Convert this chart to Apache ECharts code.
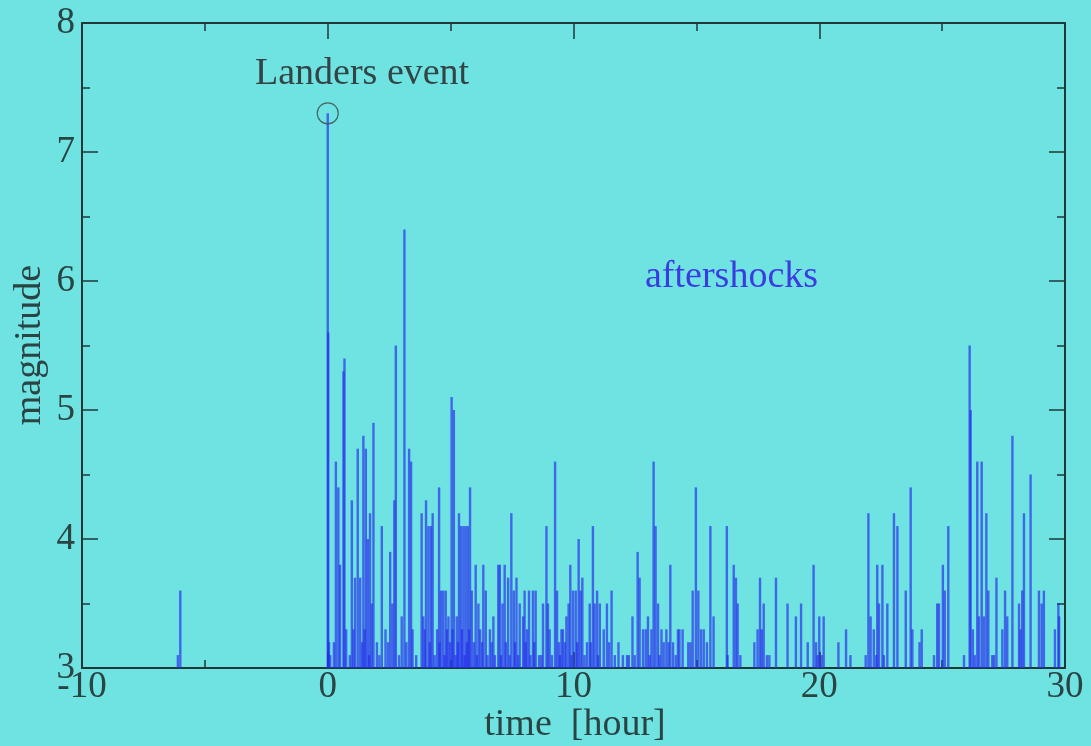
<!DOCTYPE html>
<html>
<head>
<meta charset="utf-8">
<script src="https://cdn.jsdelivr.net/npm/echarts@6/dist/echarts.min.js"></script>
<style>
html,body{margin:0;padding:0;background:#6ee3e2;}
#chart{width:1091px;height:746px;}
</style>
</head>
<body>
<div id="chart"></div>
<script>
// ---- data (time in hours relative to the Landers event, magnitude) ----
const times = [
  -6.1, -6.0,
  0.0, 0.02, 0.05, 0.1, 0.25, 0.33, 0.43, 0.5, 0.64, 0.68, 0.75, 0.9, 0.98, 1.05, 1.11, 1.22, 1.32, 1.4,
  1.45, 1.5, 1.55, 1.63, 1.68, 1.72, 1.79, 1.86, 2.0, 2.1, 2.2, 2.35, 2.45, 2.54, 2.63, 2.71, 2.77, 2.9,
  3.01, 3.12, 3.2, 3.31, 3.39, 3.45, 3.6, 3.82, 3.89, 3.95, 4.0, 4.1, 4.15, 4.2, 4.27, 4.35, 4.45, 4.53,
  4.55, 4.61, 4.7, 4.75, 4.8, 4.85, 4.91, 4.97, 5.04, 5.08, 5.13, 5.2, 5.25, 5.3, 5.34, 5.42, 5.46, 5.52,
  5.57, 5.61, 5.66, 5.7, 5.75, 5.79, 5.86, 5.95, 6.02, 6.07, 6.13, 6.2, 6.28, 6.33, 6.43, 6.5, 6.6, 6.67,
  6.74, 6.8, 6.94, 7.0, 7.05, 7.11, 7.2, 7.25, 7.34, 7.4, 7.47, 7.57, 7.62, 7.68, 7.75, 7.81, 7.95, 8.01,
  8.05, 8.11, 8.19, 8.25, 8.35, 8.4, 8.46, 8.6, 8.69, 8.76, 8.9, 8.96, 9.03, 9.12, 9.25, 9.33, 9.41, 9.45,
  9.51, 9.57, 9.65, 9.71, 9.8, 9.87, 9.92, 9.98, 10.09, 10.15, 10.21, 10.29, 10.36, 10.45, 10.55, 10.66,
  10.7, 10.79, 10.86, 10.96, 11.0, 11.07, 11.23, 11.36, 11.45, 11.55, 11.68, 11.83, 12.01, 12.18, 12.25,
  12.4, 12.49, 12.61, 12.69, 12.83, 12.94, 13.03, 13.1, 13.17, 13.26, 13.34, 13.44, 13.5, 13.58, 13.67,
  13.78, 13.87, 13.94, 14.05, 14.16, 14.25, 14.31, 14.44, 14.67, 14.76, 14.85, 14.98, 15.08, 15.19, 15.3,
  15.43, 15.57, 15.7, 16.24, 16.27, 16.52, 16.61, 16.68, 16.79, 17.36, 17.49, 17.59, 17.66, 17.74, 17.87,
  17.97, 18.24, 18.71, 19.05, 19.26, 19.53, 19.77, 19.87, 19.93, 20.0, 20.1, 20.18, 20.78, 21.09, 21.27,
  21.89, 22.0, 22.09, 22.22, 22.32, 22.36, 22.43, 22.57, 22.63, 22.77, 23.04, 23.18, 23.52, 23.72, 23.79,
  24.08, 24.17, 24.67, 24.8, 24.87, 25.03, 25.11, 25.25, 25.89, 26.12, 26.16, 26.25, 26.33, 26.43, 26.5,
  26.61, 26.7, 26.8, 26.88, 27.04, 27.11, 27.21, 27.45, 27.56, 27.65, 27.86, 28.13, 28.19, 28.26, 28.33,
  28.6, 28.94, 29.05, 29.14, 29.59, 29.73, 29.76
];
const magnitudes = [
  3.1, 3.6,
  7.3, 5.6, 3.2, 3.1, 3.2, 4.6, 4.4, 3.8, 5.3, 5.4, 3.3, 3.1, 4.3, 3.3, 3.7, 4.7, 3.7, 3.2,
  4.8, 3.3, 4.7, 4.0, 3.1, 4.2, 3.5, 4.9, 3.2, 3.1, 4.1, 3.3, 3.2, 3.9, 3.5, 4.3, 5.5, 3.1,
  3.4, 6.4, 3.2, 4.7, 4.6, 3.3, 3.1, 4.2, 3.4, 3.3, 4.3, 4.1, 3.2, 4.1, 4.2, 3.1, 3.3, 4.4,
  3.2, 3.6, 3.6, 3.1, 3.6, 3.3, 3.4, 3.2, 5.1, 3.3, 5.0, 3.1, 3.4, 3.2, 4.2, 4.1, 3.3, 4.1,
  3.1, 4.1, 3.2, 4.1, 3.3, 4.4, 3.6, 3.2, 3.8, 3.1, 3.5, 3.3, 3.2, 3.8, 3.6, 3.1, 3.3, 3.2,
  3.4, 3.1, 3.8, 3.8, 3.1, 3.5, 3.8, 3.2, 3.7, 3.1, 4.2, 3.6, 3.2, 3.7, 3.1, 3.5, 3.4, 3.6,
  3.2, 3.3, 3.6, 3.1, 3.6, 3.2, 3.6, 3.1, 3.1, 3.5, 4.1, 3.5, 3.3, 3.1, 4.6, 3.6, 3.2, 3.1,
  3.3, 3.3, 3.2, 3.4, 3.5, 3.8, 3.1, 3.6, 3.6, 3.2, 4.0, 3.6, 3.7, 3.1, 3.2, 3.5,
  3.2, 4.1, 3.5, 3.6, 3.1, 3.5, 3.3, 3.5, 3.2, 3.6, 3.1, 3.2, 3.1, 3.1, 3.1,
  3.4, 3.1, 3.9, 3.7, 3.3, 3.3, 3.4, 3.1, 3.3, 4.6, 4.1, 3.5, 3.1, 3.3, 3.2,
  3.3, 3.2, 3.8, 3.2, 3.1, 3.3, 3.3, 3.3, 3.2, 3.2, 3.6, 4.4, 3.6, 3.3, 3.3,
  3.2, 4.1, 3.4, 4.1, 3.1, 3.8, 3.7, 3.5, 3.1, 3.2, 3.3, 3.7, 3.3, 3.5, 3.1,
  3.1, 3.7, 3.5, 3.4, 3.5, 3.2, 3.8, 3.2, 3.1, 3.4, 3.1, 3.4, 3.2, 3.3, 3.1,
  3.1, 4.2, 3.4, 3.3, 3.1, 3.8, 3.5, 3.8, 3.1, 3.5, 4.2, 4.1, 3.6, 4.4, 3.3,
  3.2, 3.3, 3.1, 3.5, 3.5, 3.8, 3.6, 4.1, 3.1, 5.5, 5.0, 3.3, 3.1, 4.6, 3.4,
  4.6, 3.4, 4.2, 3.6, 3.1, 3.1, 3.7, 3.3, 3.6, 3.4, 4.8, 3.5, 3.3, 3.6, 4.2,
  4.5, 3.6, 3.5, 3.6, 3.3, 3.5, 3.4
];
const mainShock = [0.0, 7.3];
const xTicks = { min: -10, max: 30, interval: 10 };
const yTicks = { min: 3, max: 8, interval: 1 };

const spikes = times.map((t, i) => [t, magnitudes[i]]);

const ink = '#203838';
const font = 'Liberation Serif';
const axisCommon = {
  axisLine: { show: true, onZero: false, lineStyle: { color: ink, width: 2 } },
  axisTick: { show: true, inside: true, length: 16, lineStyle: { color: ink, width: 1.5 } },
  minorTick: { show: true, splitNumber: 2, length: 8, lineStyle: { color: ink, width: 1.5 } },
  splitLine: { show: false },
  minorSplitLine: { show: false }
};

const chart = echarts.init(document.getElementById('chart'), null, { renderer: 'canvas' });
chart.setOption({
  animation: false,
  backgroundColor: '#6ee3e2',
  grid: { left: 82, right: 26, top: 23, bottom: 78 },
  xAxis: [
    Object.assign({
      type: 'value', position: 'bottom', min: xTicks.min, max: xTicks.max, interval: xTicks.interval,
      axisLabel: { show: true, margin: 1, color: '#2a4444', fontFamily: font, fontSize: 37 }
    }, axisCommon),
    Object.assign({
      type: 'value', position: 'top', min: xTicks.min, max: xTicks.max, interval: xTicks.interval,
      axisLabel: { show: false }
    }, axisCommon)
  ],
  yAxis: [
    Object.assign({
      type: 'value', position: 'left', min: yTicks.min, max: yTicks.max, interval: yTicks.interval,
      axisLabel: { show: true, margin: 7, color: '#2a4444', fontFamily: font, fontSize: 37 }
    }, axisCommon),
    Object.assign({
      type: 'value', position: 'right', min: yTicks.min, max: yTicks.max, interval: yTicks.interval,
      axisLabel: { show: false }
    }, axisCommon)
  ],
  series: [
    {
      type: 'custom',
      xAxisIndex: 0, yAxisIndex: 0,
      data: spikes,
      renderItem: function (params, api) {
        const p0 = api.coord([api.value(0), yTicks.min]);
        const p1 = api.coord([api.value(0), api.value(1)]);
        return {
          type: 'line',
          shape: { x1: p0[0], y1: p0[1], x2: p1[0], y2: p1[1] },
          style: { stroke: 'rgba(40,45,235,0.68)', lineWidth: 2.4 }
        };
      },
      z: 1
    },
    {
      type: 'scatter',
      xAxisIndex: 0, yAxisIndex: 0,
      data: [mainShock],
      symbol: 'circle',
      symbolSize: 21,
      itemStyle: { color: 'rgba(0,0,0,0)', borderColor: '#3a4a4a', borderWidth: 1.2 },
      z: 3
    }
  ],
  graphic: [
    { type: 'text', left: 255, top: 55, style: { text: 'Landers event', fill: '#334444', font: '38px "Liberation Serif"' } },
    { type: 'text', left: 645, top: 258, style: { text: 'aftershocks', fill: '#3b3be2', font: '38px "Liberation Serif"' } },
    { type: 'text', x: 575, y: 725, style: { text: 'time  [hour]', fill: '#2a4444', font: '38px "Liberation Serif"', align: 'center', verticalAlign: 'middle' } },
    { type: 'text', x: 30, y: 345, rotation: Math.PI / 2, style: { text: 'magnitude', fill: '#2a4444', font: '38px "Liberation Serif"', align: 'center', verticalAlign: 'middle' } }
  ]
});
</script>
</body>
</html>
